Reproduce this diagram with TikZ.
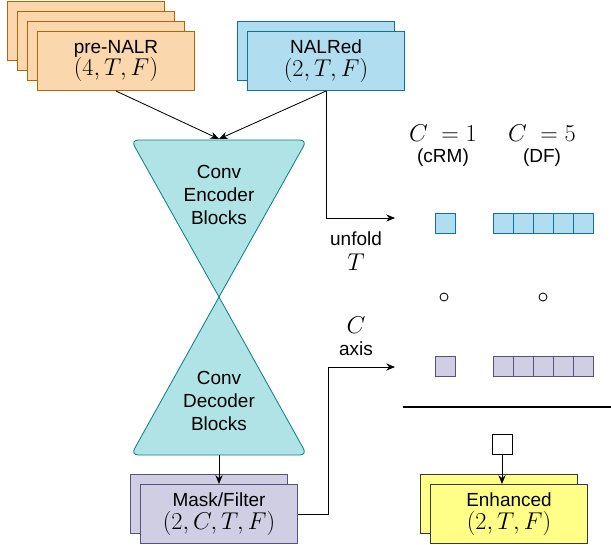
\documentclass[tikz,border=0pt]{standalone}
\usepackage[no-math]{fontspec}
\setmainfont{Liberation Sans}
\usetikzlibrary{arrows.meta}

\definecolor{orfill}{HTML}{FAD7AC}
\definecolor{ordraw}{HTML}{B46504}
\definecolor{blfill}{HTML}{B1DDF0}
\definecolor{bldraw}{HTML}{10739E}
\definecolor{pufill}{HTML}{D0CEE2}
\definecolor{pudraw}{HTML}{56517E}
\definecolor{yefill}{HTML}{FFFF88}
\definecolor{yedraw}{HTML}{36393D}
\definecolor{tefill}{HTML}{B0E3E6}
\definecolor{tedraw}{HTML}{0E8088}

\newcommand{\dimlbl}[1]{{\fontsize{16.5}{19}\selectfont$#1$}}

\tikzset{
    box/.style={draw, minimum width=3.93cm, minimum height=1.48cm, inner sep=0pt,
        align=center, font=\fontsize{13.5}{16}\selectfont},
    prebox/.style={box, fill=orfill, draw=ordraw},
    nalbox/.style={box, fill=blfill, draw=bldraw},
    maskbox/.style={box, fill=pufill, draw=pudraw},
    enhbox/.style={box, fill=yefill, draw=yedraw},
    cell/.style={draw, minimum size=0.5cm, inner sep=0pt},
    bluecell/.style={cell, fill=blfill, draw=bldraw},
    purplecell/.style={cell, fill=pufill, draw=pudraw},
    dotnode/.style={draw, circle, minimum size=0.2cm, inner sep=0pt},
    lbl/.style={align=center, font=\fontsize{13.5}{16}\selectfont},
    arr/.style={-{Stealth[length=0.22cm, width=0.18cm]}},
}

\begin{document}
\begin{tikzpicture}[x=0.025cm, y=-0.025cm, line width=0.6pt]
    \useasboundingbox (0,0) rectangle (611,545);

    \node[prebox] at (86, 31)      (pre3) {};
    \node[prebox] at (96, 41)      (pre2) {};
    \node[prebox] at (106, 51)     (pre1) {};
    \node[prebox] at (116, 61)     (pre)  {pre-NALR\\\dimlbl{(4,T,F)}};

    \node[nalbox] at (316, 51)     (nal1) {};
    \node[nalbox] at (326, 61)     (nal)  {NALRed\\\dimlbl{(2,T,F)}};

    \filldraw[fill=tefill, draw=tedraw] (219,297) [rounded corners=0.18cm] -- (131,140) -- (307,140) [sharp corners] -- cycle;
    \filldraw[fill=tefill, draw=tedraw] (219,297) [rounded corners=0.18cm] -- (131,455) -- (307,455) [sharp corners] -- cycle;
    \coordinate (enctop) at (219,139);
    \coordinate (decbot) at (219,455);
    \node[lbl, font=\fontsize{13.5}{16.3}\selectfont] at (219, 195) (enc) {Conv\\Encoder\\Blocks};
    \node[lbl, font=\fontsize{13.5}{16.3}\selectfont] at (219, 401) (dec) {Conv\\Decoder\\Blocks};

    \node[maskbox] at (209, 504)   (mask1) {};
    \node[maskbox] at (219, 514)   (mask)  {Mask/Filter\\\dimlbl{(2,C,T,F)}};

    \node at (443, 133)            (c1)   {\dimlbl{C\;=1}};
    \node[lbl] at (443, 158)       (crm)  {(cRM)};
    \node at (542, 133)            (c5)   {\dimlbl{C\;=5}};
    \node[lbl] at (542, 158)       (df)   {(DF)};

    \coordinate (inrow) at (395, 218);
    \coordinate (outrow) at (395, 367);
    \node[lbl] at (356, 239)       (unf)  {unfold};
    \node at (356, 262)            (tax)  {\dimlbl{T}};
    \node at (356, 325)            (cax)  {\dimlbl{C}};
    \node[lbl] at (356, 349)       (axis) {axis};

    \node[bluecell] at (445, 223)  (bc)  {};
    \node[bluecell] at (503, 223)  (bd1) {};
    \node[bluecell] at (523, 223)  (bd2) {};
    \node[bluecell] at (543, 223)  (bd3) {};
    \node[bluecell] at (563, 223)  (bd4) {};
    \node[bluecell] at (583, 223)  (bd5) {};

    \node[dotnode] at (444, 297)   (dot1) {};
    \node[dotnode] at (543, 297)   (dot2) {};

    \node[purplecell] at (445, 366)  (pc)  {};
    \node[purplecell] at (503, 366)  (pd1) {};
    \node[purplecell] at (523, 366)  (pd2) {};
    \node[purplecell] at (543, 366)  (pd3) {};
    \node[purplecell] at (563, 366)  (pd4) {};
    \node[purplecell] at (583, 366)  (pd5) {};

    \coordinate (ruleL) at (403, 407);
    \coordinate (ruleR) at (611, 407);
    \draw[line width=1.4pt] (ruleL) -- (ruleR);

    \node[cell, fill=white] at (502, 444) (sum) {};

    \node[enhbox] at (499, 504)    (enh1) {};
    \node[enhbox] at (509, 514)    (enh)  {Enhanced\\\dimlbl{(2,T,F)}};

    \draw[arr] (pre.south) -- (enctop);
    \draw[arr] (nal.south) -- (enctop);
    \draw[arr] (nal.south) |- (inrow);
    \draw[arr] (decbot) -- (mask.north);
    \draw[arr] (mask.east) -- ++(30,0) |- (outrow);
    \draw[arr] (sum.south) -- (sum.south |- enh.north);
\end{tikzpicture}
\end{document}
